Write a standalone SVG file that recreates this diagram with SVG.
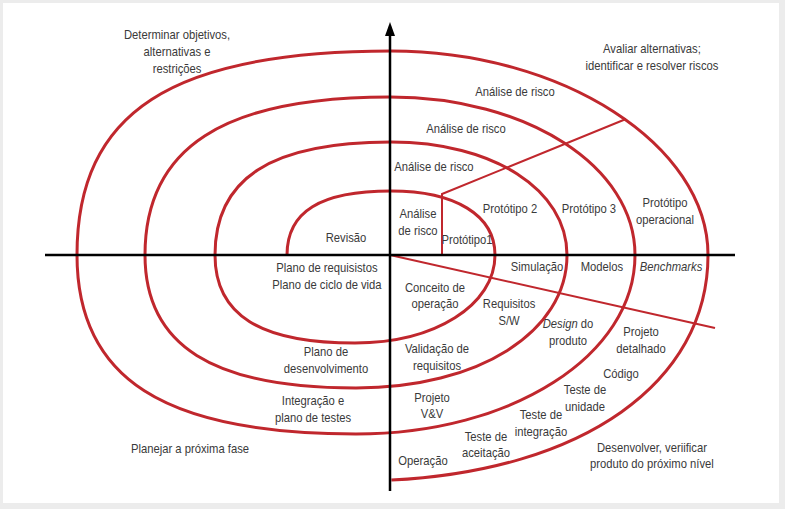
<svg xmlns="http://www.w3.org/2000/svg" width="785" height="509" viewBox="0 0 785 509">
<defs>
<style>
.t{font-family:"Liberation Sans",Arial,sans-serif;font-size:12.5px;fill:#3a3a3a;text-anchor:middle}
.i{font-style:italic}
.sp{fill:none;stroke:#c0272d;stroke-width:3}
.rl{fill:none;stroke:#c0272d;stroke-width:2}
.ax{fill:none;stroke:#000;stroke-width:2.5}
</style>
<marker id="ah" markerWidth="14" markerHeight="10" refX="0" refY="5" orient="auto" markerUnits="userSpaceOnUse" viewBox="0 0 14 10">
<path d="M0,0 L14,5 L0,10 Z" fill="#000"/>
</marker>
</defs>
<rect x="0" y="0" width="785" height="509" fill="#ececec"/>
<rect x="3" y="3" width="776" height="500" fill="#fff"/>
<g id="connectors">
<path id="spiral" class="sp" d="M287,255 C287,211.5 320.3,191 391,191 C455.5,191 495,215.3 495,255 C495,305.2 434.8,343 355,343 C259.8,343 215,314.8 215,255 C215,178.2 271.3,142 391,142 C493,142 567,189.5 567,255 C567,332.1 478.4,388 356,388 C212.5,388 145,345.4 145,255 C145,147.6 223.4,97 390,97 C527.2,97 635,166.5 635,255 C635,355.2 512.2,434 356,434 C163.5,434 77,378.5 77,255 C77,112.2 171.2,51 391,51 C562.2,51 708,144.8 708,255 C708,382.9 582.8,470.5 391.4,480.1"/>
<path class="rl" d="M442,255 L442,194 L626,119"/>
<path class="rl" d="M390,255 L715,328"/>
<path class="ax" d="M45,255 L735,255"/>
<path class="ax" d="M390,491 L390,36" marker-end="url(#ah)"/>
</g>
<g transform="scale(0.9,1)">
<g id="quadrant-labels">
<text class="t" x="196.7" y="39">Determinar objetivos,</text>
<text class="t" x="196.7" y="56">alternativas e</text>
<text class="t" x="196.7" y="73">restrições</text>
<text class="t" x="724.4" y="53">Avaliar alternativas;</text>
<text class="t" x="724.4" y="70">identificar e resolver riscos</text>
<text class="t" x="211.1" y="453">Planejar a próxima fase</text>
<text class="t" x="724.4" y="452">Desenvolver, veriificar</text>
<text class="t" x="724.4" y="468">produto do próximo nível</text>
</g>
<g id="risk-labels">
<text class="t" x="572.2" y="96">Análise de risco</text>
<text class="t" x="517.8" y="133">Análise de risco</text>
<text class="t" x="482.2" y="171">Análise de risco</text>
<text class="t" x="464.4" y="218">Análise</text>
<text class="t" x="464.4" y="235">de risco</text>
</g>
<g id="prototype-labels">
<text class="t" x="518.9" y="244">Protótipo1</text>
<text class="t" x="566.7" y="213">Protótipo 2</text>
<text class="t" x="654.4" y="213">Protótipo 3</text>
<text class="t" x="738.9" y="207">Protótipo</text>
<text class="t" x="738.9" y="224">operacional</text>
</g>
<g id="plan-labels">
<text class="t" x="384.4" y="242">Revisão</text>
<text class="t" x="363.3" y="272">Plano de requisistos</text>
<text class="t" x="363.3" y="289">Plano de ciclo de vida</text>
<text class="t" x="362.2" y="356">Plano de</text>
<text class="t" x="362.2" y="373">desenvolvimento</text>
<text class="t" x="347.8" y="405">Integração e</text>
<text class="t" x="347.8" y="422">plano de testes</text>
</g>
<g id="model-labels">
<text class="t" x="596.7" y="271">Simulação</text>
<text class="t" x="668.9" y="271">Modelos</text>
<text class="t i" x="745.6" y="271">Benchmarks</text>
</g>
<g id="dev-labels">
<text class="t" x="483.3" y="292">Conceito de</text>
<text class="t" x="483.3" y="308">operação</text>
<text class="t" x="565.6" y="308">Requisitos</text>
<text class="t" x="565.6" y="325">S/W</text>
<text class="t" x="631.1" y="328"><tspan class="i">Design</tspan> do</text>
<text class="t" x="631.1" y="345">produto</text>
<text class="t" x="712.2" y="336">Projeto</text>
<text class="t" x="712.2" y="353">detalhado</text>
<text class="t" x="485.6" y="353">Validação de</text>
<text class="t" x="485.6" y="370">requisitos</text>
<text class="t" x="690" y="378">Código</text>
<text class="t" x="650" y="394">Teste de</text>
<text class="t" x="650" y="411">unidade</text>
<text class="t" x="480" y="402">Projeto</text>
<text class="t" x="480" y="418">V&amp;V</text>
<text class="t" x="601.1" y="419">Teste de</text>
<text class="t" x="601.1" y="436">integração</text>
<text class="t" x="540" y="441">Teste de</text>
<text class="t" x="540" y="457">aceitação</text>
<text class="t" x="470" y="465">Operação</text>
</g>
</g>
</svg>
